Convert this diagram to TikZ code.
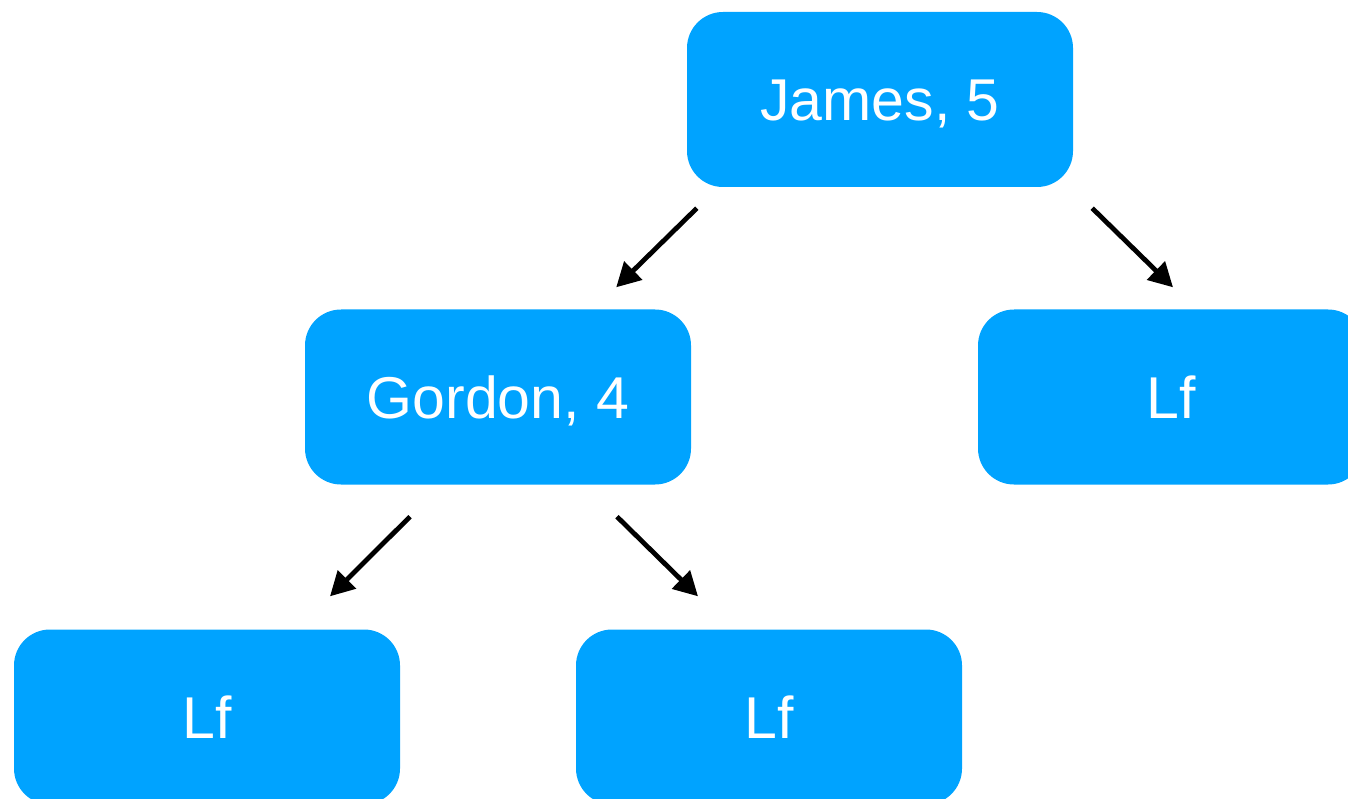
\documentclass[tikz,border=0pt]{standalone}
\usepackage{fontspec}
\setmainfont{Liberation Sans}
\usetikzlibrary{arrows.meta}
\definecolor{boxblue}{HTML}{00A3FF}
\begin{document}
\begin{tikzpicture}[x=1pt,y=-1pt,
  treebox/.style={fill=boxblue,rounded corners=36pt,minimum width=386pt,minimum height=175pt,
    inner sep=0pt,text=white,font=\fontsize{59}{60}\selectfont,text height=42pt,text depth=0pt,anchor=center},
  arr/.style={line width=4.8pt,-{Triangle[length=24pt,width=25pt]}}]
\useasboundingbox (0,0) rectangle (1348,799);
\clip (0,0) rectangle (1348,799);
\node[treebox] (james) at (880,99.5) {James, 5};
\node[treebox] (gordon) at (498,397) {Gordon, 4};
\node[treebox] (lfr) at (1171,397) {Lf};
\node[treebox] (lfa) at (207,717) {Lf};
\node[treebox] (lfb) at (769,717) {Lf};
\draw[arr] ([shift={(10,21)}]james.south west) -- ([shift={(-75,-22)}]gordon.north east);
\draw[arr] ([shift={(19,21)}]james.south east) -- ([shift={(2,-22)}]lfr.north);
\draw[arr] ([shift={(-88,32)}]gordon.south) -- ([shift={(123,-33)}]lfa.north);
\draw[arr] ([shift={(119,32)}]gordon.south) -- ([shift={(-71,-33)}]lfb.north);
\end{tikzpicture}
\end{document}
